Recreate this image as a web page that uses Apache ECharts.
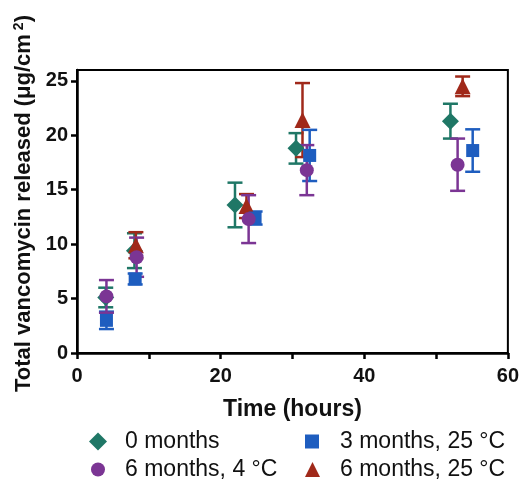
<!DOCTYPE html>
<html>
<head>
<meta charset="utf-8">
<script src="https://cdn.jsdelivr.net/npm/echarts@6/dist/echarts.min.js"></script>
<style>
  html, body { margin: 0; padding: 0; background: #fff; }
  #chart { width: 522px; height: 483px; }
</style>
</head>
<body>
<div id="chart"></div>
<script>
const xTicks = [0, 20, 40, 60];
const yTicks = [0, 5, 10, 15, 20, 25];

const names = ["0 months", "3 months, 25 °C", "6 months, 4 °C", "6 months, 25 °C"];

const time0 = [4, 8, 22, 30.5, 52];
const mean0 = [5.1, 9.4, 13.6, 18.8, 21.3];
const err0 = [0.9, 1.6, 2.05, 1.4, 1.6];

const time3 = [4.1, 8.1, 24.8, 32.4, 55.1];
const mean3 = [3.0, 6.8, 12.4, 18.15, 18.6];
const err3 = [0.8, 0.5, 0.6, 2.35, 1.95];

const time6c = [4.1, 8.3, 23.9, 32, 53];
const mean6c = [5.2, 8.8, 12.3, 16.8, 17.3];
const err6c = [1.5, 1.8, 2.2, 2.3, 2.4];

const time6w = [8.2, 23.6, 31.4, 53.7];
const mean6w = [9.9, 13.5, 21.4, 24.5];
const err6w = [1.2, 1.1, 3.4, 0.9];

const colors = { g: "#1f7766", b: "#1e5dbf", p: "#7b3594", r: "#a0291a" };
const font = "'Liberation Sans', Arial, sans-serif";

const chart = echarts.init(document.getElementById("chart"));

const pts = (t, m) => t.map((x, i) => [x, m[i]]);
const errs = (t, m, e) => t.map((x, i) => [x, m[i] - e[i], m[i] + e[i]]);

const errSeries = (name, data, color) => ({
  name: name,
  type: "custom",
  data: data,
  itemStyle: { color: color },
  renderItem: (params, api) => {
    const lo = api.coord([api.value(0), api.value(1)]);
    const hi = api.coord([api.value(0), api.value(2)]);
    const w = 7.5;
    const style = { stroke: color, lineWidth: 2.5 };
    return {
      type: "group",
      children: [
        { type: "line", shape: { x1: lo[0], y1: lo[1], x2: hi[0], y2: hi[1] }, style: style },
        { type: "line", shape: { x1: lo[0] - w, y1: lo[1], x2: lo[0] + w, y2: lo[1] }, style: style },
        { type: "line", shape: { x1: hi[0] - w, y1: hi[1], x2: hi[0] + w, y2: hi[1] }, style: style },
      ],
    };
  },
});

const dotSeries = (name, data, color, symbol, size) => ({
  name: name,
  type: "scatter",
  data: data,
  symbol: symbol,
  symbolSize: size,
  itemStyle: { color: color, opacity: 1 },
});

const legendAt = (name, icon, color, size, pad, left, top) => ({
  data: [{ name: name, icon: icon, itemStyle: { color: color } }],
  left: left,
  top: top,
  itemWidth: size,
  itemHeight: size,
  textStyle: { fontFamily: font, fontSize: 23, color: "#111", padding: [0, 0, 0, pad] },
});

chart.setOption({
  animation: false,
  grid: { left: 77, right: 14, top: 70, bottom: 130, show: true, borderColor: "#000", borderWidth: 2 },
  legend: [
    legendAt(names[0], "diamond", colors.g, 18, 13, 84, 425),
    legendAt(names[2], "circle", colors.p, 14, 15, 86, 453),
    legendAt(names[1], "rect", colors.b, 14, 16, 300, 425),
    legendAt(names[3], "triangle", colors.r, 15, 15, 300, 453),
  ],
  xAxis: {
    type: "value",
    min: 0,
    max: 60,
    interval: 10,
    name: "Time (hours)",
    nameLocation: "middle",
    nameGap: 45,
    nameTextStyle: { fontFamily: font, fontWeight: "bold", fontSize: 23, color: "#111" },
    axisLine: { lineStyle: { color: "#000", width: 2.5 } },
    axisTick: { length: 6, lineStyle: { color: "#000", width: 2.5 } },
    axisLabel: {
      customValues: xTicks,
      margin: 13,
      fontFamily: font,
      fontWeight: "bold",
      fontSize: 20,
      color: "#111",
    },
    splitLine: { show: false },
  },
  yAxis: {
    type: "value",
    min: 0,
    max: 26,
    name: "{a|Total vancomycin released (μg/cm}{s|2}{a|)}",
    nameLocation: "middle",
    nameGap: 38,
    nameTextStyle: {
      padding: [0, 0, 0, 16],
      rich: {
        a: { fontFamily: font, fontWeight: "bold", fontSize: 22, color: "#111" },
        s: { fontFamily: font, fontWeight: "bold", fontSize: 14, color: "#111", verticalAlign: "top", padding: [0, 0, 10, 4] },
      },
    },
    axisLine: { lineStyle: { color: "#000", width: 2.5 } },
    axisTick: { customValues: yTicks, length: 6, lineStyle: { color: "#000", width: 2.5 } },
    axisLabel: {
      customValues: yTicks,
      margin: 9,
      fontFamily: font,
      fontWeight: "bold",
      fontSize: 20,
      color: "#111",
    },
    splitLine: { show: false },
  },
  series: [
    errSeries(names[0], errs(time0, mean0, err0), colors.g),
    dotSeries(names[0], pts(time0, mean0), colors.g, "diamond", 17),
    errSeries(names[3], errs(time6w, mean6w, err6w), colors.r),
    dotSeries(names[3], pts(time6w, mean6w), colors.r, "triangle", 16),
    errSeries(names[1], errs(time3, mean3, err3), colors.b),
    dotSeries(names[1], pts(time3, mean3), colors.b, "rect", 13),
    errSeries(names[2], errs(time6c, mean6c, err6c), colors.p),
    dotSeries(names[2], pts(time6c, mean6c), colors.p, "circle", 14),
  ],
});
</script>
</body>
</html>
